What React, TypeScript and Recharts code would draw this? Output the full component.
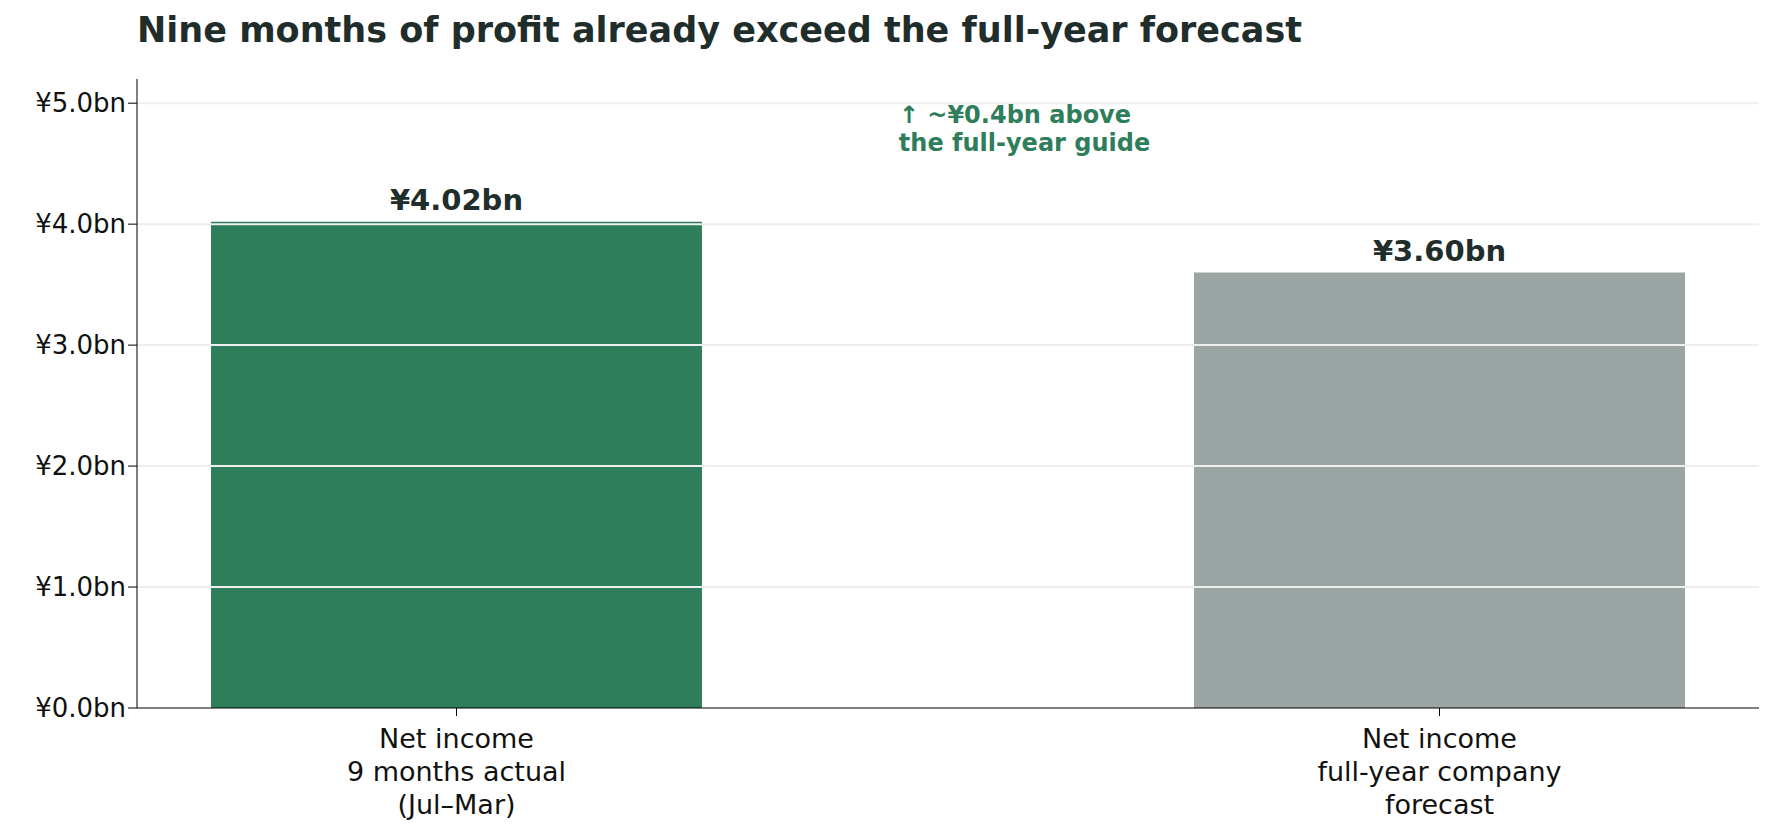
import { BarChart, Bar, XAxis, YAxis, ReferenceLine, ReferenceDot, Cell, LabelList } from "recharts";

const categories = [
  ["Net income", "9 months actual", "(Jul–Mar)"],
  ["Net income", "full-year company", "forecast"],
];
const values = [4.02, 3.6];
const valueLabels = ["¥4.02bn", "¥3.60bn"];
const barColors = ["#2e7d5b", "#9ba6a4"];
const yTicks = [0, 1, 2, 3, 4, 5];
const annotation = ["↑ ~¥0.4bn above", "the full-year guide"];

const data = values.map((v, i) => ({ x: i, value: v, label: valueLabels[i] }));
const FONT = "'DejaVu Sans', sans-serif";

const XTick = (props: any) => {
  const { x, y, payload } = props;
  const lines = categories[payload.value] || [];
  return (
    <text x={x} y={y + 30} textAnchor="middle" fontSize={27} fill="#111" fontFamily={FONT}>
      {lines.map((l, i) => (
        <tspan key={i} x={x} dy={i === 0 ? 0 : 33}>{l}</tspan>
      ))}
    </text>
  );
};

const AnnotationLabel = (props: any) => {
  const { viewBox } = props;
  const x = viewBox.cx ?? viewBox.x;
  const y = viewBox.cy ?? viewBox.y;
  return (
    <text x={x} y={y} fontSize={24} fontWeight="bold" fill="#2e7d5b" fontFamily={FONT}>
      {annotation.map((l, i) => (
        <tspan key={i} x={x} dy={i === 0 ? 0 : 28}>{l}</tspan>
      ))}
    </text>
  );
};

export default function App() {
  return (
    <div style={{ position: "relative", width: 1779, height: 840, margin: -8, background: "#fff", fontFamily: FONT }}>
      <div style={{ position: "absolute", left: 137, top: 10, fontSize: 35, fontWeight: "bold", color: "#1f2d2b" }}>
        Nine months of profit already exceed the full-year forecast
      </div>
      <BarChart width={1779} height={840} data={data} margin={{ top: 79, right: 20, bottom: 102, left: 0 }}>
        <XAxis
          dataKey="x"
          type="number"
          domain={[-0.325, 1.325]}
          ticks={[0, 1]}
          tick={<XTick />}
          stroke="#000"
          tickSize={8}
          allowDataOverflow
        />
        <YAxis
          width={137}
          domain={[0, 5.2]}
          ticks={yTicks}
          tickFormatter={(v: number) => `¥${v.toFixed(1)}bn`}
          tick={{ fontSize: 26, fill: "#111", fontFamily: FONT }}
          stroke="#000"
          tickSize={9}
          allowDataOverflow
        />
        <Bar dataKey="value" barSize={491} isAnimationActive={false}>
          {data.map((d, i) => (
            <Cell key={i} fill={barColors[i]} />
          ))}
          <LabelList dataKey="label" position="top" offset={12} fontSize={29} fontWeight="bold" fill="#1f2d2b" fontFamily={FONT} />
        </Bar>
        {yTicks.slice(1).map((t) => (
          <ReferenceLine key={t} y={t} stroke="#eeeeee" strokeWidth={2} />
        ))}
        <ReferenceDot x={0.45} y={4.84} r={0} fill="none" stroke="none" label={<AnnotationLabel />} />
      </BarChart>
    </div>
  );
}
